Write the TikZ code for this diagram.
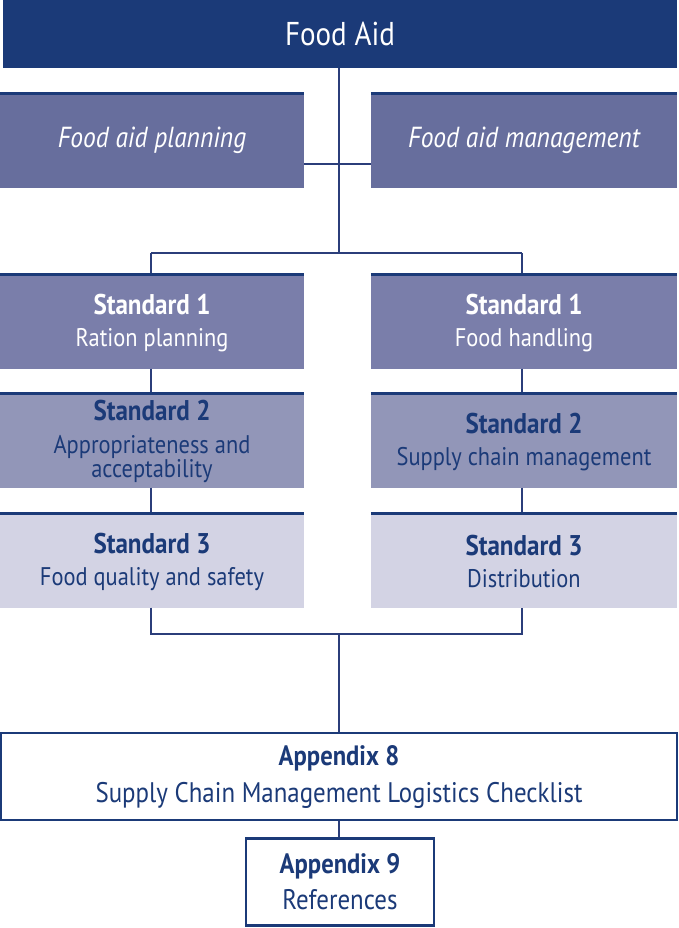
\documentclass[tikz,border=0pt]{standalone}
\usepackage{fontspec}
\setmainfont{PT Sans}[FakeStretch=0.88]
\definecolor{navy}{HTML}{1B3A78}
\definecolor{linec}{HTML}{2B3E7A}
\definecolor{cplan}{HTML}{676E9D}
\definecolor{cone}{HTML}{7A7EAA}
\definecolor{ctwo}{HTML}{9296B8}
\definecolor{cthree}{HTML}{D3D3E4}
\newcommand{\sttl}[1]{{\fontsize{28.5}{24}\selectfont\bfseries\rule{0pt}{24pt}#1}}
\newcommand{\attl}[1]{{\fontsize{28}{28}\selectfont\bfseries #1}}
\begin{document}
\begin{tikzpicture}[x=1pt,y=-1pt,
  box/.style={rectangle,inner sep=0pt,minimum width=304pt,minimum height=95pt,align=center,font=\fontsize{25.5}{24}\selectfont},
  wtext/.style={text=white},
  btext/.style={text=navy},
  bar/.style={draw=navy,line width=3pt},
  conn/.style={draw=linec,line width=1.3pt},
  apbox/.style={rectangle,draw=navy,line width=2.2pt,fill=white,inner sep=0pt,align=center,text=navy,font=\fontsize{28.3}{28}\selectfont}]
\useasboundingbox (0,0) rectangle (678,928);
\fill[white] (0,0) rectangle (678,928);
\coordinate (hubA) at (339,164);
\coordinate (hubB) at (339,253);
\coordinate (jl) at (151,253);
\coordinate (jr) at (522,253);
\coordinate (kl) at (151,634);
\coordinate (kr) at (522,634);
\coordinate (hubC) at (339,634);
% nodes
\node[rectangle,fill=navy,inner sep=0pt,minimum width=674pt,minimum height=68pt,text=white,font=\fontsize{33}{30}\selectfont] (top) at (340,34) {Food Aid};
\node[box,fill=cplan,wtext,font=\fontsize{29}{26}\selectfont\itshape] (plan) at (152,140) {Food aid planning};
\node[box,fill=cplan,wtext,minimum width=306pt,font=\fontsize{29}{26}\selectfont\itshape] (mgmt) at (524,140) {Food aid management};
\node[box,fill=cone,wtext] (l1) at (152,321) {\sttl{Standard 1}\\[8pt]Ration planning};
\node[box,fill=cone,wtext,minimum width=306pt] (r1) at (524,321) {\sttl{Standard 1}\\[8pt]Food handling};
\node[box,fill=ctwo,btext] (l2) at (152,440) {\sttl{Standard 2}\\[9pt]Appropriateness and\\acceptability};
\node[box,fill=ctwo,btext,minimum width=306pt] (r2) at (524,440) {\sttl{Standard 2}\\[8pt]Supply chain management};
\node[box,fill=cthree,btext] (l3) at (152,560) {\sttl{Standard 3}\\[8pt]Food quality and safety};
\node[box,fill=cthree,btext,minimum width=306pt] (r3) at (524,560) {\sttl{Standard 3}\\[8pt]Distribution};
\node[apbox,minimum width=676pt,minimum height=87pt] (ap8) at (339,776.5) {\attl{Appendix 8}\\[9pt]Supply Chain Management Logistics Checklist};
\node[apbox,minimum width=188pt,minimum height=87pt] (ap9) at (340,882) {\attl{Appendix 9}\\[8pt]References};
% top bars
\foreach \n in {plan,mgmt,l1,r1,l2,r2,l3,r3}{
  \draw[bar] ([yshift=-1.5pt]\n.north west) -- ([yshift=-1.5pt]\n.north east);
}
% connectors
\draw[conn] (top.south -| hubA) -- (hubB);
\draw[conn] (plan.east |- hubA) -- (mgmt.west |- hubA);
\draw[conn] (jl) -- (jr);
\draw[conn] (jl) -- (l1.north -| jl);
\draw[conn] (jr) -- (r1.north -| jr);
\draw[conn] (l1.south -| jl) -- (l2.north -| jl);
\draw[conn] (r1.south -| jr) -- (r2.north -| jr);
\draw[conn] (l2.south -| jl) -- (l3.north -| jl);
\draw[conn] (r2.south -| jr) -- (r3.north -| jr);
\draw[conn] (l3.south -| kl) -- (kl) -- (kr) -- (r3.south -| kr);
\draw[conn] (hubC) -- (ap8.north -| hubC);
\draw[conn] (ap8.south -| hubC) -- (ap9.north -| hubC);
\end{tikzpicture}
\end{document}
